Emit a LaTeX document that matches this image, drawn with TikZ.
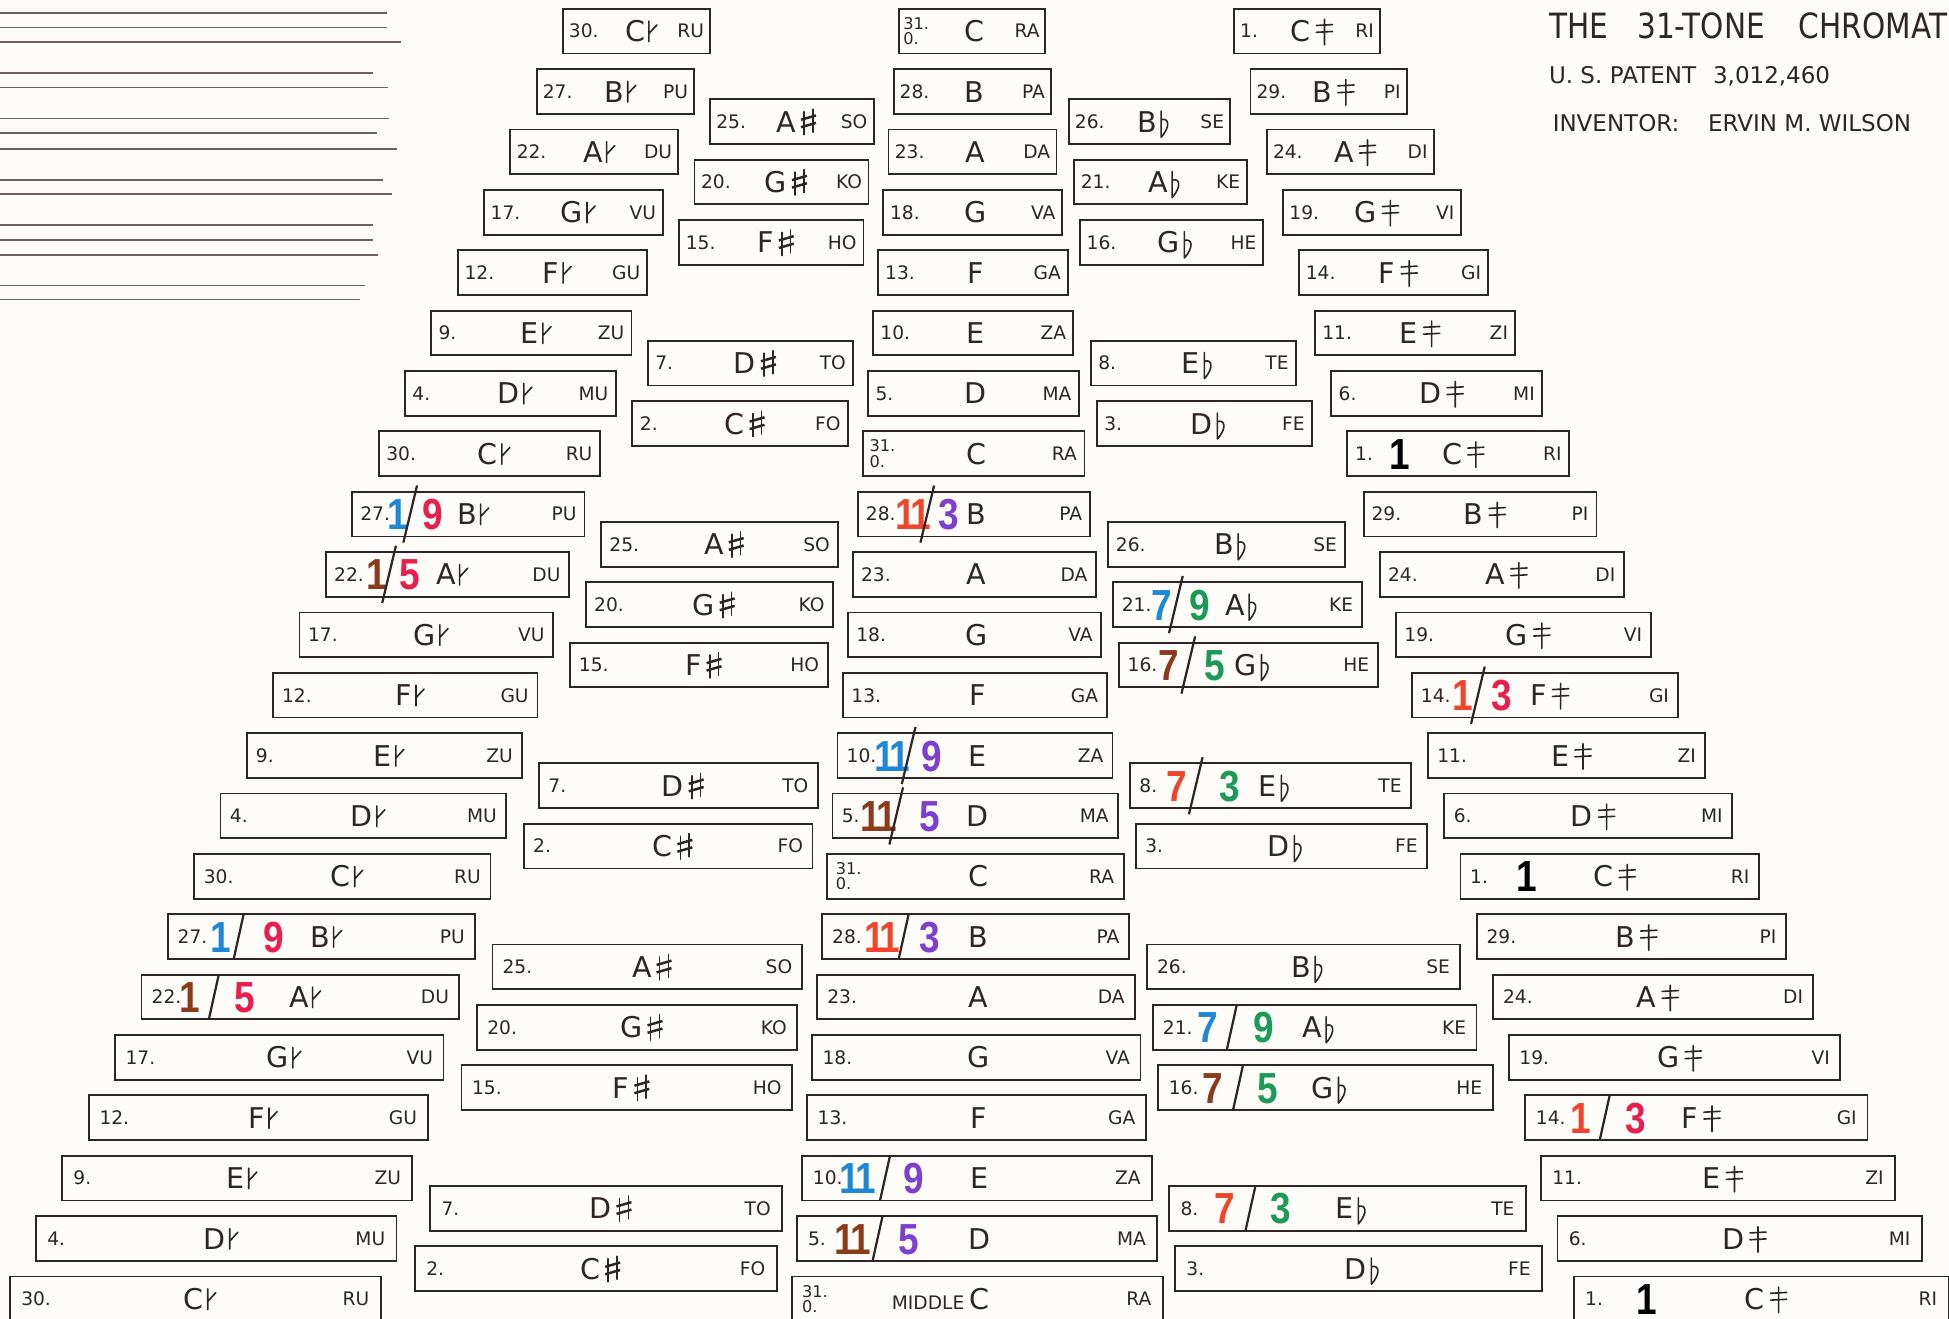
\documentclass[tikz,border=0pt]{standalone}
\usepackage{fontspec}
\setmainfont{DejaVu Sans}
\newfontfamily\ratf[FakeStretch=0.85]{Liberation Sans}
\newfontfamily\titf[FakeStretch=0.85]{DejaVu Sans}
\definecolor{ink}{HTML}{2E2626}
\definecolor{paper}{HTML}{FEFCF8}
\definecolor{rblue}{HTML}{1E88D6}
\definecolor{rcrim}{HTML}{E91E4C}
\definecolor{rbrown}{HTML}{8C3A1C}
\definecolor{rorange}{HTML}{F0452A}
\definecolor{rpurp}{HTML}{7D3FCF}
\definecolor{rgreen}{HTML}{1D9A57}
\definecolor{staffc}{HTML}{6E6060}
\newcommand{\AccHF}{\kern2.5pt\tikz[baseline=0pt,x=1pt,y=1pt]{\draw[ink,line width=1.3pt,line cap=round] (0,0)--(0,16.5) (0,6.5)--(6.5,13.5);}}
\newcommand{\AccFl}{\kern3pt\tikz[baseline=0pt,x=1pt,y=1pt]{\draw[ink,line width=1.3pt,line cap=round,line join=round] (0,-4)--(0,17) (0,10) .. controls (6,12) and (8,5) .. (0,-4);}}
\newcommand{\AccHS}{\kern4pt\tikz[baseline=0pt,x=1pt,y=1pt]{\draw[ink,line width=1.3pt,line cap=round] (0,-2.5)--(0,18) (-6.5,7.5)--(6.5,8.2) (-6.5,13)--(6.5,13.7);}}
\newcommand{\AccSh}{\kern3pt\tikz[baseline=0pt,x=1pt,y=1pt]{\draw[ink,line width=1.3pt,line cap=round] (1.5,-2)--(1.5,16.5) (8.5,0)--(8.5,18.5); \draw[ink,line width=2pt] (-1,4)--(11,7.5) (-1,10)--(11,13.5);}}
\newcommand{\eleven}{1\kern-0.12em 1}
\newcommand{\RatioAB}[9]{%
  \node[ratt,text=#4] (#1a) at (#3,25+48.57*#2+12.5) {#5};
  \draw[ink,line width=1.8pt] (#6+\rdx,25+48.57*#2-18-\rext) -- (#6-\rdx,25+48.57*#2+18+\rext);
  \node[ratt,text=#8] (#1b) at (#7,25+48.57*#2+12.5) {#9};}
\begin{document}
\begin{tikzpicture}[x=1pt,y=-1pt,
  kbox/.style={draw=ink,line width=1.5pt,inner sep=0pt,minimum height=36pt},
  numt/.style={font=\fontsize{15}{15}\selectfont,text=ink,inner sep=0pt,anchor=base west},
  notet/.style={font=\fontsize{23}{23}\selectfont,text=ink,inner sep=0pt,anchor=base},
  sylt/.style={font=\fontsize{15}{15}\selectfont,text=ink,inner sep=0pt,anchor=base east},
  ratt/.style={font=\ratf\bfseries\fontsize{35}{35}\selectfont,inner sep=0pt,anchor=base},
  titt/.style={font=\titf\fontsize{28}{28}\selectfont,text=ink,inner sep=0pt,anchor=base west},
  subt/.style={font=\fontsize{18.5}{18.5}\selectfont,text=ink,inner sep=0pt,anchor=base west}]
\useasboundingbox (0,0) rectangle (1568,1061);
\clip (0,0) rectangle (1568,1061);
\fill[paper] (0,0) rectangle (1568,1061);
% staff lines
\foreach \yy/\xe in {10.7/311,22/311,34/323,58.5/300,70.5/312,95.2/313,107.2/303,119.9/319,144.8/308,156/315,181/300,193/300,205/304,229.8/294,240.8/290}
  \draw[staffc,line width=1.3pt] (0,\yy) -- (\xe,\yy);
% titles
\node[titt] (t1) at (1246,31) {THE};
\node[titt] (t2) at (1317,31) {31-TONE};
\node[titt] (t3) at (1447,31) {CHROMATIC};
\node[subt] (p1) at (1246,67) {U. S.};
\node[subt] (p2) at (1295,67) {PATENT};
\node[subt] (p3) at (1378,67) {3,012,460};
\node[subt] (v1) at (1249,106) {INVENTOR:};
\node[subt] (v2) at (1374,106) {ERVIN M. WILSON};
% main columns
\foreach \i in {0,...,21}{
  \pgfmathtruncatemacro{\kk}{mod(\i,7)}
  \pgfmathsetmacro{\yy}{25+48.57*\i}
  \pgfmathsetmacro{\pad}{4.5+0.22*\i}
  % left column
  \pgfmathsetmacro{\xl}{453-21.2*\i}
  \pgfmathsetmacro{\xr}{571-12.6*\i}
  \pgfmathsetmacro{\bw}{\xr-\xl}
  \node[kbox,minimum width=\bw pt] (L\i) at ({(\xl+\xr)/2},\yy) {};
  \node[numt] (Ln\i) at (\xl+\pad,\yy+5.5) {\ifcase\kk\relax 30\or 27\or 22\or 17\or 12\or 9\or 4\fi.};
  \node[notet] (Lc\i) at ({(\xl+\xr)/2+4},\yy+8.5) {\ifcase\kk\relax C\or B\or A\or G\or F\or E\or D\fi\AccHF};
  \node[sylt] (Ls\i) at (\xr-\pad,\yy+5.5) {\ifcase\kk\relax RU\or PU\or DU\or VU\or GU\or ZU\or MU\fi};
  % centre column
  \pgfmathsetmacro{\xl}{723-4.1*\i}
  \pgfmathsetmacro{\xr}{841+4.5*\i}
  \pgfmathsetmacro{\bw}{\xr-\xl}
  \node[kbox,minimum width=\bw pt] (C\i) at ({(\xl+\xr)/2},\yy) {};
  \ifnum\kk=0
    \node[numt,anchor=west,align=left,font=\fontsize{13}{12.5}\selectfont] (Cn\i) at (\xl+\pad-1,\yy) {31.\\0.};
  \else
    \node[numt] (Cn\i) at (\xl+\pad,\yy+5.5) {\ifcase\kk\relax\or 28\or 23\or 18\or 13\or 10\or 5\fi.};
  \fi
  \node[notet] (Cc\i) at ({(\xl+\xr)/2+2},\yy+8.5) {\ifcase\kk\relax C\or B\or A\or G\or F\or E\or D\fi};
  \node[sylt] (Cs\i) at (\xr-\pad,\yy+5.5) {\ifcase\kk\relax RA\or PA\or DA\or VA\or GA\or ZA\or MA\fi};
  % right column
  \pgfmathsetmacro{\xl}{993+13*\i}
  \pgfmathsetmacro{\xr}{1110+21.8*\i}
  \pgfmathsetmacro{\bw}{\xr-\xl}
  \node[kbox,minimum width=\bw pt] (R\i) at ({(\xl+\xr)/2},\yy) {};
  \node[numt] (Rn\i) at (\xl+\pad,\yy+5.5) {\ifcase\kk\relax 1\or 29\or 24\or 19\or 14\or 11\or 6\fi.};
  \node[notet] (Rc\i) at ({(\xl+\xr)/2+4},\yy+8.5) {\ifcase\kk\relax C\or B\or A\or G\or F\or E\or D\fi\AccHS};
  \node[sylt] (Rs\i) at (\xr-\pad,\yy+5.5) {\ifcase\kk\relax RI\or PI\or DI\or VI\or GI\or ZI\or MI\fi};
}
\node[font=\fontsize{15}{15}\selectfont,text=ink,inner sep=0pt,anchor=base east] (mid) at ([xshift=-4pt]Cc21.base west) {MIDDLE};
% half rows: sharps and flats
\foreach \j in {1,2,3,5,6,8,9,10,12,13,15,16,17,19,20}{
  \pgfmathtruncatemacro{\kk}{mod(\j,7)}
  \pgfmathsetmacro{\hh}{\j+0.5}
  \pgfmathsetmacro{\yy}{25+48.57*\hh}
  \pgfmathsetmacro{\pad}{4.5+0.22*\hh}
  \pgfmathsetmacro{\xl}{590-12.5*\hh}
  \pgfmathsetmacro{\xr}{709-4.1*\hh}
  \pgfmathsetmacro{\bw}{\xr-\xl}
  \node[kbox,minimum width=\bw pt] (S\j) at ({(\xl+\xr)/2},\yy) {};
  \node[numt] (Sn\j) at (\xl+\pad,\yy+5.5) {\ifcase\kk\relax\or 25\or 20\or 15\or\or 7\or 2\fi.};
  \node[notet] (Sc\j) at ({(\xl+\xr)/2+4},\yy+8.5) {\ifcase\kk\relax\or A\or G\or F\or\or D\or C\fi\AccSh};
  \node[sylt] (Ss\j) at (\xr-\pad,\yy+5.5) {\ifcase\kk\relax\or SO\or KO\or HO\or\or TO\or FO\fi};
  \pgfmathsetmacro{\xl}{853+4.5*\hh}
  \pgfmathsetmacro{\xr}{970+13.2*\hh}
  \pgfmathsetmacro{\bw}{\xr-\xl}
  \node[kbox,minimum width=\bw pt] (F\j) at ({(\xl+\xr)/2},\yy) {};
  \node[numt] (Fn\j) at (\xl+\pad,\yy+5.5) {\ifcase\kk\relax\or 26\or 21\or 16\or\or 8\or 3\fi.};
  \node[notet] (Fc\j) at ({(\xl+\xr)/2+4},\yy+8.5) {\ifcase\kk\relax\or B\or A\or G\or\or E\or D\fi\AccFl};
  \node[sylt] (Fs\j) at (\xr-\pad,\yy+5.5) {\ifcase\kk\relax\or SE\or KE\or HE\or\or TE\or FE\fi};
}
% ratios, middle octave
\def\rext{5}\def\rdx{5.5}
\RatioAB{ra1}{8}{320}{rblue}{1}{330}{348}{rcrim}{9}
\RatioAB{ra2}{9}{303}{rbrown}{1}{313}{330}{rcrim}{5}
\RatioAB{ra3}{8}{735}{rorange}{\eleven}{746}{763}{rpurp}{3}
\RatioAB{ra4}{9.5}{935}{rblue}{7}{946}{965}{rgreen}{9}
\RatioAB{ra5}{10.5}{940}{rbrown}{7}{956}{977}{rgreen}{5}
\RatioAB{ra6}{11}{1177}{rorange}{1}{1189}{1208}{rcrim}{3}
\RatioAB{ra7}{12}{718}{rblue}{\eleven}{731}{750}{rpurp}{9}
\RatioAB{ra8}{13}{707}{rbrown}{\eleven}{721}{748}{rpurp}{5}
\RatioAB{ra9}{12.5}{947}{rorange}{7}{962}{989}{rgreen}{3}
% ratios, lowest octave
\def\rext{0}\def\rdx{4}
\RatioAB{rb1}{15}{178}{rblue}{1}{192}{220}{rcrim}{9}
\RatioAB{rb2}{16}{153}{rbrown}{1}{172}{197}{rcrim}{5}
\RatioAB{rb3}{15}{710}{rorange}{\eleven}{727}{748}{rpurp}{3}
\RatioAB{rb4}{16.5}{972}{rblue}{7}{991}{1017}{rgreen}{9}
\RatioAB{rb5}{17.5}{976}{rbrown}{7}{996}{1020}{rgreen}{5}
\RatioAB{rb6}{18}{1272}{rorange}{1}{1291}{1316}{rcrim}{3}
\RatioAB{rb7}{19}{690}{rblue}{\eleven}{712}{735}{rpurp}{9}
\RatioAB{rb8}{20}{686}{rbrown}{\eleven}{706}{731}{rpurp}{5}
\RatioAB{rb9}{19.5}{985}{rorange}{7}{1006}{1030}{rgreen}{3}
% unison marks
\node[ratt,text=black] (one1) at (1126,25+48.57*7+12.5) {1};
\node[ratt,text=black] (one2) at (1228,25+48.57*14+12.5) {1};
\node[ratt,text=black] (one3) at (1325,25+48.57*21+12.5) {1};
\end{tikzpicture}
\end{document}
